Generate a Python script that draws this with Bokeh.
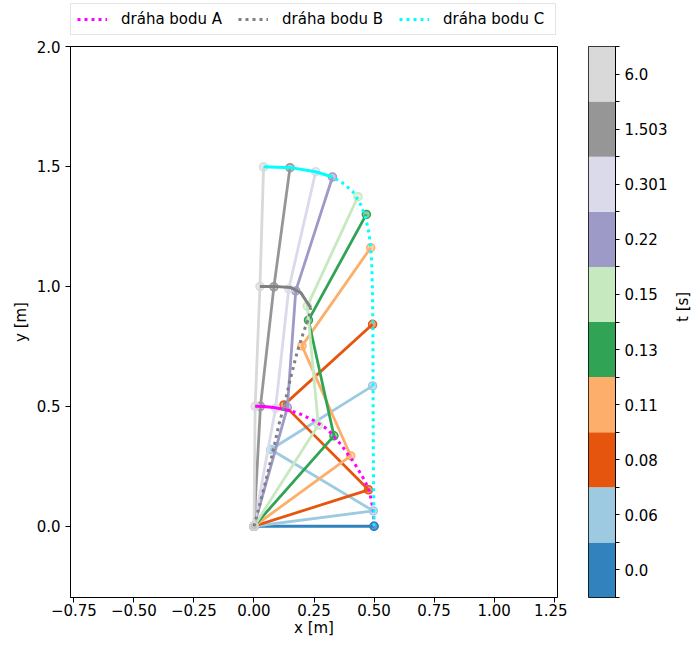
import math
from bokeh.plotting import figure
from bokeh.layouts import row, column
from bokeh.models import Range1d, FixedTicker, Legend, LegendItem
from bokeh.embed import file_html
from bokeh.resources import INLINE

# ---- data ----
times = ["0.0", "0.06", "0.08", "0.11", "0.13", "0.15", "0.22", "0.301", "1.503", "6.0"]
colors = ["#3182bd", "#9ecae1", "#e6550d", "#fdae6b", "#31a354",
          "#c7e9c0", "#9e9ac8", "#dadaeb", "#969696", "#d9d9d9"]

ax = [0.500, 0.497, 0.477, 0.403, 0.333, 0.268, 0.139, 0.090, 0.027, 0.005]
ay = [0.000, 0.064, 0.152, 0.293, 0.377, 0.422, 0.495, 0.492, 0.500, 0.500]
bx = [0.000, 0.070, 0.125, 0.200, 0.227, 0.222, 0.174, 0.145, 0.083, 0.025]
by = [0.000, 0.320, 0.506, 0.752, 0.859, 0.918, 0.981, 0.990, 0.998, 1.000]
cx = [0.500, 0.494, 0.494, 0.486, 0.468, 0.433, 0.327, 0.257, 0.150, 0.040]
cy = [0.000, 0.585, 0.842, 1.161, 1.300, 1.374, 1.456, 1.478, 1.495, 1.498]

# trajectories (early, dotted part) and late oscillating part (looks solid)
pathA_x = [0.500, 0.497, 0.480, 0.458, 0.417, 0.361, 0.306, 0.250, 0.195, 0.153]
pathA_y = [0.000, 0.064, 0.150, 0.196, 0.265, 0.342, 0.405, 0.440, 0.467, 0.481]
pathA_end_x = [0.153, 0.120, 0.083, 0.040, 0.005]
pathA_end_y = [0.481, 0.488, 0.495, 0.499, 0.500]

pathB_x = [0.000, 0.028, 0.056, 0.083, 0.104, 0.125, 0.153, 0.181, 0.208, 0.229, 0.236]
pathB_y = [0.000, 0.106, 0.217, 0.328, 0.425, 0.500, 0.620, 0.730, 0.814, 0.870, 0.911]
pathB_end_x = [0.236, 0.222, 0.195, 0.153, 0.083, 0.025]
pathB_end_y = [0.911, 0.932, 0.974, 0.995, 1.000, 1.000]

pathC_x = [0.500, 0.497, 0.496, 0.495, 0.494, 0.490, 0.480, 0.465, 0.444, 0.410, 0.368, 0.327]
pathC_y = [0.000, 0.300, 0.600, 0.850, 0.967, 1.106, 1.217, 1.286, 1.342, 1.397, 1.432, 1.456]
pathC_end_x = [0.327, 0.257, 0.153, 0.040]
pathC_end_y = [1.456, 1.478, 1.495, 1.499]

path_labels = ["dráha bodu A", "dráha bodu B", "dráha bodu C"]
path_colors = ["#ff00ff", "#808080", "#00ffff"]

x_ticks = [-0.75, -0.5, -0.25, 0.0, 0.25, 0.5, 0.75, 1.0, 1.25]
x_tick_labels = ["\u22120.75", "\u22120.50", "\u22120.25", "0.00", "0.25", "0.50", "0.75", "1.00", "1.25"]
y_ticks = [0.0, 0.5, 1.0, 1.5, 2.0]
y_tick_labels = ["0.0", "0.5", "1.0", "1.5", "2.0"]

FONT = "DejaVu Sans"
FS = "15px"

paths = [(pathA_x, pathA_y, pathA_end_x, pathA_end_y),
         (pathB_x, pathB_y, pathB_end_x, pathB_end_y),
         (pathC_x, pathC_y, pathC_end_x, pathC_end_y)]

# ---- main plot ----
p = figure(frame_width=487, frame_height=551, output_backend="svg", toolbar_location=None,
           x_range=Range1d(-0.764, 1.264), y_range=Range1d(-0.297, 2.0),
           min_border_left=70, min_border_right=10, min_border_top=10, min_border_bottom=49,
           background_fill_color="white", border_fill_color="white")
p.grid.visible = False
p.outline_line_color = "black"
p.outline_line_alpha = 1.0

for i in range(len(times)):
    xs = [0.0, ax[i], bx[i], cx[i]]
    ys = [0.0, ay[i], by[i], cy[i]]
    p.line(xs, ys, line_color=colors[i], line_width=2.8)
    p.scatter(xs, ys, size=8, fill_color=colors[i], fill_alpha=0.55,
              line_color=colors[i], line_width=1.5)

for (px_, py_, ex_, ey_), col in zip(paths, path_colors):
    p.line(px_, py_, line_color=col, line_width=3, line_dash="3 4")
    p.line(ex_, ey_, line_color=col, line_width=3)

for axis, ticks, labs in ((p.xaxis[0], x_ticks, x_tick_labels), (p.yaxis[0], y_ticks, y_tick_labels)):
    axis.ticker = FixedTicker(ticks=ticks, minor_ticks=[])
    axis.major_label_overrides = {t: l for t, l in zip(ticks, labs)}
    axis.major_tick_out = 5
    axis.major_tick_in = 0
    axis.minor_tick_out = 0
    axis.minor_tick_in = 0
    axis.axis_line_color = "black"
    axis.major_tick_line_color = "black"
    axis.major_label_text_font = FONT
    axis.major_label_text_font_size = FS
    axis.major_label_text_color = "black"
    axis.axis_label_text_font = FONT
    axis.axis_label_text_font_size = FS
    axis.axis_label_text_font_style = "normal"
    axis.axis_label_text_color = "black"

p.xaxis.axis_label = "x [m]"
p.xaxis.major_label_standoff = 1
p.xaxis.axis_label_standoff = 0
p.yaxis.axis_label = "y [m]"
p.yaxis.major_label_standoff = 5
p.yaxis.axis_label_standoff = 4

# ---- legend strip above the plot (own small figure, same path data) ----
lg = figure(frame_width=487, frame_height=36, output_backend="svg", toolbar_location=None,
            x_range=Range1d(10, 11), y_range=Range1d(10, 11),
            min_border_left=70, min_border_right=10, min_border_top=0, min_border_bottom=0,
            background_fill_color="white", border_fill_color="white")
lg.grid.visible = False
lg.axis.visible = False
lg.outline_line_color = None
items = []
for (px_, py_, ex_, ey_), lab, col in zip(paths, path_labels, path_colors):
    r = lg.line(px_, py_, line_color=col, line_width=3, line_dash="3 4")
    items.append(LegendItem(label=lab, renderers=[r]))
legend = Legend(items=items, orientation="horizontal", location=(0, 1),
                padding=6, spacing=11, label_standoff=14, glyph_width=30,
                glyph_height=16, label_height=16, label_width=106, margin=0,
                label_text_font=FONT, label_text_font_size=FS, label_text_color="black",
                border_line_color="#cccccc", border_line_width=1,
                background_fill_color="white", background_fill_alpha=0.8)
lg.add_layout(legend, "center")

# ---- colour bar as its own small figure ----
n = len(times)
cb = figure(frame_width=27, frame_height=551, output_backend="svg", toolbar_location=None,
            x_range=Range1d(0, 1), y_range=Range1d(0, n), y_axis_location="right",
            min_border_left=21, min_border_right=78, min_border_top=10, min_border_bottom=49,
            background_fill_color="white", border_fill_color="white")
cb.grid.visible = False
cb.outline_line_color = "black"
cb.outline_line_alpha = 1.0
cb.xaxis.visible = False
cb.quad(left=[0] * n, right=[1] * n, bottom=list(range(n)), top=[k + 1 for k in range(n)],
        fill_color=colors, line_color=None)
ya = cb.yaxis[0]
centers = [k + 0.5 for k in range(n)]
ya.ticker = FixedTicker(ticks=centers, minor_ticks=list(range(n + 1)))
ya.major_label_overrides = {c: t for c, t in zip(centers, times)}
ya.major_tick_out = 4
ya.major_tick_in = 0
ya.minor_tick_out = 4
ya.minor_tick_in = 0
ya.axis_line_color = "black"
ya.major_tick_line_color = "black"
ya.minor_tick_line_color = "black"
ya.major_label_text_font = FONT
ya.major_label_text_font_size = FS
ya.major_label_text_color = "black"
ya.major_label_standoff = 5
ya.axis_label = "t [s]"
ya.axis_label_text_font = FONT
ya.axis_label_text_font_size = FS
ya.axis_label_text_font_style = "normal"
ya.axis_label_text_color = "black"
ya.axis_label_standoff = 13
ya.axis_label_orientation = math.pi / 2

layout = column(lg, row(p, cb))
open("out.html", "w").write(file_html(layout, INLINE))
